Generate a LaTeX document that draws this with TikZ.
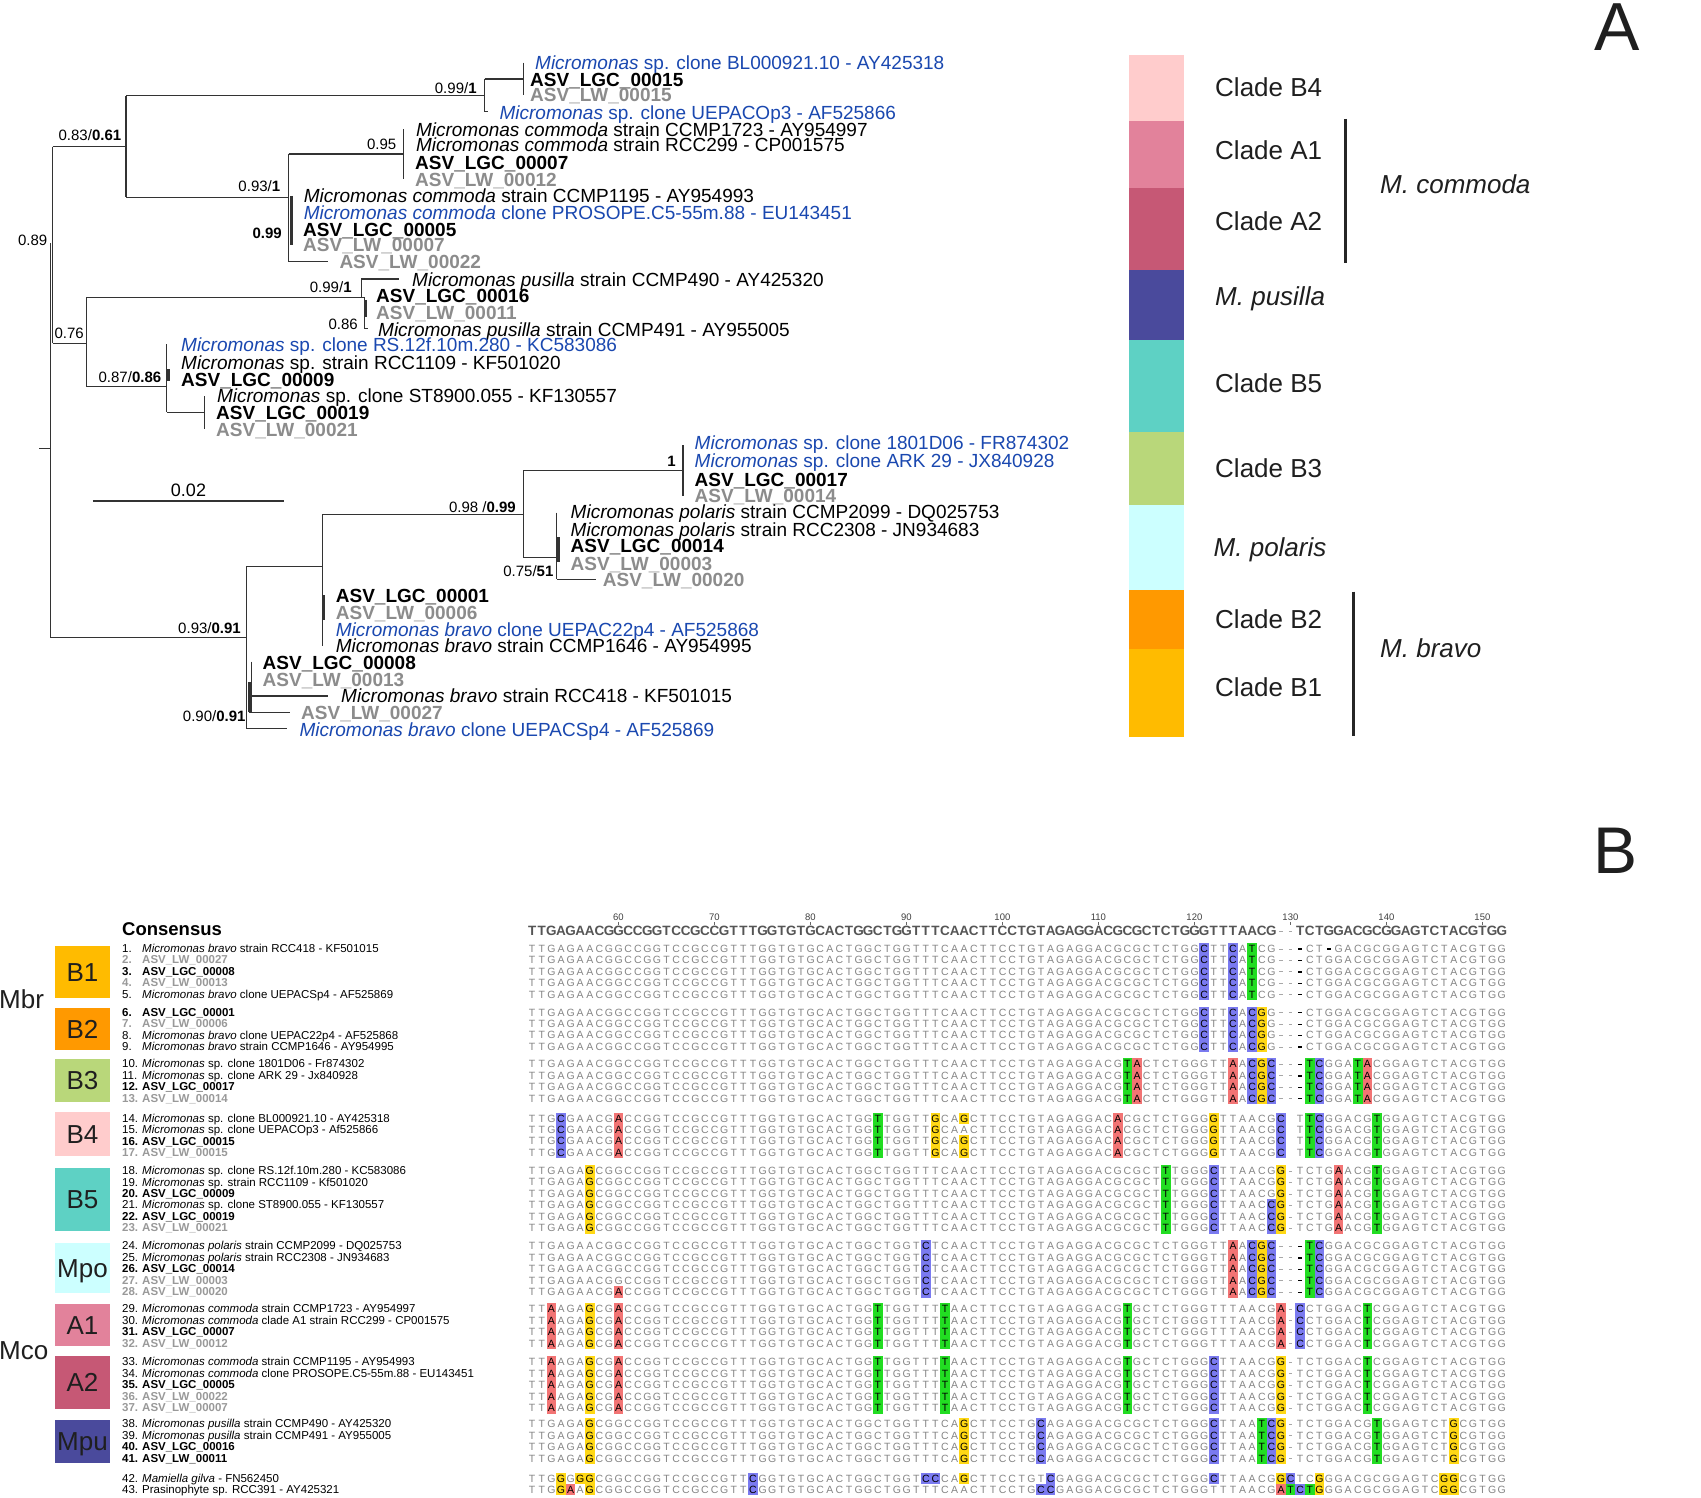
\documentclass[tikz,border=0pt]{standalone}
\usepackage{fontspec}
\setmainfont{Liberation Sans}
\definecolor{treeline}{HTML}{333333}
\definecolor{tblue}{HTML}{1A48B0}
\definecolor{tgray}{HTML}{8C8C8C}
\definecolor{lgray}{HTML}{999999}
\definecolor{seqgray}{HTML}{858585}
\definecolor{consgray}{HTML}{555555}
\definecolor{gapgray}{HTML}{A8A8A8}
\definecolor{hlred}{HTML}{F27474}
\definecolor{hlblue}{HTML}{7A7AF0}
\definecolor{hlgreen}{HTML}{22DD22}
\definecolor{hlyel}{HTML}{FFD814}
\definecolor{cB4}{HTML}{FFCCCC}
\definecolor{cA1}{HTML}{E2829B}
\definecolor{cA2}{HTML}{C65875}
\definecolor{cPu}{HTML}{4A4A9C}
\definecolor{cB5}{HTML}{5ED1C4}
\definecolor{cB3}{HTML}{B9D77A}
\definecolor{cPo}{HTML}{CCFFFF}
\definecolor{cB2}{HTML}{FF9900}
\definecolor{cB1}{HTML}{FFBB00}
\newlength\cw \setlength\cw{9.6pt}
\makeatletter
\newcommand\seqrow[1]{\sq@#1\relax}
\def\sq@#1{\ifx#1\relax\else\sq@char#1\expandafter\sq@\fi}
\def\sq@hl#1#2{\rlap{\color{#1}\rule[-2.05pt]{\cw}{11.5pt}}\makebox[\cw]{\color{black}#2}}
\def\sq@char#1{%
  \ifx#1a\sq@hl{hlred}{A}\else
  \ifx#1c\sq@hl{hlblue}{C}\else
  \ifx#1g\sq@hl{hlyel}{G}\else
  \ifx#1t\sq@hl{hlgreen}{T}\else
  \ifx#1-\makebox[\cw]{\color{gapgray}\rule[2.8pt]{3.4pt}{0.9pt}}\else
  \ifx#1=\makebox[\cw]{\color{black}\rule[2.6pt]{4pt}{1.3pt}}\else
  \ifx#1.\hspace*{\cw}\else
  \makebox[\cw]{#1}\fi\fi\fi\fi\fi\fi\fi}
\makeatother
\newcommand\Mi{\textit{Micromonas}}
\newcommand\alrow[5]{%
  \node[#3, anchor=base west] (num#2) at (122,{#1+3.9}) {#2.};
  \node[#3, anchor=base west] (lab#2) at (142,{#1+3.9}) {#4};
  \node[sq, anchor=base west] (seq#2) at (527.2,{#1+3.7}) {\seqrow{#5}};
}
\begin{document}
\begin{tikzpicture}[x=1pt,y=-1pt,
  lf/.style={anchor=base west, inner sep=0pt, font=\fontsize{19}{20}\selectfont},
  lfb/.style={anchor=base west, inner sep=0pt, font=\fontsize{19}{20}\selectfont\bfseries},
  lfg/.style={lfb, text=tgray},
  lfu/.style={lf, text=tblue},
  bs/.style={anchor=base east, inner sep=0pt, font=\fontsize{15}{16}\selectfont},
  tl/.style={draw=treeline, line width=1.2pt},
  tk/.style={draw=treeline, line width=2.6pt},
  lg/.style={anchor=base west, inner sep=0pt, font=\fontsize{26}{28}\selectfont, text=black!88},
  lbn/.style={inner sep=0pt, font=\fontsize{11.5}{12}\selectfont},
  lbb/.style={inner sep=0pt, font=\fontsize{11.5}{12}\selectfont\bfseries},
  lbg/.style={lbb, text=lgray},
  sq/.style={inner sep=0pt, font=\fontsize{10.5}{11}\selectfont, text=seqgray},
  bx/.style={font=\fontsize{26}{28}\selectfont, anchor=base, inner sep=0pt, text=black!88},
  pl/.style={anchor=base west, inner sep=0pt, font=\fontsize{68}{70}\selectfont, text=black!88}
]
\useasboundingbox[fill=white] (0,0) rectangle (1701,1498);

% ---------------- Panel A: tree ----------------
\coordinate (rootL) at (39.3,448.3);
\coordinate (rootX) at (50.8,448.3);
\coordinate (rT) at (50.8,243);
\coordinate (rB) at (50.8,637.7);
\coordinate (n89t) at (52.5,146.7);
\coordinate (n89b) at (52.5,343.3);
\coordinate (a83) at (126,146.7);
\coordinate (a83t) at (126,95.7);
\coordinate (a83b) at (126,197.3);
\coordinate (aB4) at (484.6,95.7);
\coordinate (aB4t) at (484.6,79);
\coordinate (aB4b) at (484.6,111.7);
\coordinate (aB4c) at (523.2,79);
\coordinate (aB4ct) at (523.2,62.7);
\coordinate (aB4cb) at (523.2,95);
\coordinate (aA) at (288.6,197.3);
\coordinate (aAt) at (288.6,154);
\coordinate (aAb) at (288.6,261.7);
\coordinate (aA1) at (403.6,154);
\coordinate (aA1t) at (403.6,129.3);
\coordinate (aA1b) at (403.6,179.3);
\coordinate (a76) at (86.8,343.3);
\coordinate (a76t) at (86.8,297.3);
\coordinate (a76b) at (86.8,386.7);
\coordinate (aPu) at (361.4,297.3);
\coordinate (aPut) at (361.4,279);
\coordinate (aPu2) at (364.3,297.3);
\coordinate (aPu2b) at (364.3,328.3);
\coordinate (aB5) at (166.8,386.7);
\coordinate (aB5t) at (166.8,344);
\coordinate (aB5b) at (166.8,412.3);
\coordinate (aB5c) at (204.3,412.3);
\coordinate (aB5ct) at (204.3,396);
\coordinate (aB5cb) at (204.3,429);
\coordinate (bN) at (246.4,637.7);
\coordinate (bNt) at (246.4,566.7);
\coordinate (bNb) at (246.4,728.3);
\coordinate (bM) at (322.5,566.7);
\coordinate (bMt) at (322.5,514.3);
\coordinate (bMb) at (322.5,646);
\coordinate (bP) at (523.2,514.3);
\coordinate (bPt) at (523.2,470.7);
\coordinate (bPb) at (523.2,557.7);
\coordinate (bB3) at (683,470.7);
\coordinate (bB3t) at (683,445);
\coordinate (bB3b) at (683,496);
\coordinate (bPo) at (556.8,557.7);
\coordinate (bPot) at (556.8,512.7);
\coordinate (bPob) at (556.8,579.3);

\draw[tl] (rootL) -- (rootX);
\draw[tl] (rT) -- (rB);
\draw[tl] (n89t) -- (n89b);
\draw[tl] (n89t) -- (a83);
\draw[tl] (a83t) -- (a83b);
\draw[tl] (a83t) -- (aB4);
\draw[tl] (aB4t) -- (aB4b);
\draw[tl] (aB4b) -- ++(3,0);
\draw[tl] (aB4t) -- (aB4c);
\draw[tl] (aB4ct) -- (aB4cb);
\draw[tl] (a83b) -- (aA);
\draw[tl] (aAt) -- (aAb);
\draw[tl] (aAb) -- ++(39.3,0);
\draw[tl] (aAt) -- (aA1);
\draw[tl] (aA1t) -- (aA1b);
\draw[tk] (291.4,196) -- (291.4,245);
\draw[tl] (n89b) -- (a76);
\draw[tl] (a76t) -- (a76b);
\draw[tl] (a76t) -- (aPu2);
\draw[tl] (aPut) -- (aPu);
\draw[tl] (aPut) -- ++(37.9,0);
\draw[tl] (aPu2) -- (aPu2b);
\draw[tk] (365.3,300) -- (365.3,316.5);
\draw[tl] (aPu2b) -- ++(3.7,0);
\draw[tl] (a76b) -- (aB5);
\draw[tl] (aB5t) -- (aB5b);
\draw[tk] (168.3,369) -- (168.3,381);
\draw[tl] (aB5b) -- (aB5c);
\draw[tl] (aB5ct) -- (aB5cb);
\draw[tl] (rB) -- (bN);
\draw[tl] (bNt) -- (bNb);
\draw[tl] (bNb) -- ++(40.4,0);
\draw[tl] (bNt) -- (bM);
\draw[tl] (bMt) -- (bMb);
\draw[tk] (323.6,595) -- (323.6,620);
\draw[tl] (bMt) -- (bP);
\draw[tl] (bPt) -- (bPb);
\draw[tl] (bPt) -- (bB3);
\draw[tl] (bB3t) -- (bB3b);
\draw[tl] (bPb) -- (bPo);
\draw[tl] (bPot) -- (bPob);
\draw[tk] (558.3,537) -- (558.3,562);
\draw[tl] (bPob) -- ++(39,0);
\draw[tl] (251.3,661.7) -- (251.3,712.3);
\draw[tk] (249.4,682) -- (249.4,712);
\draw[tl] (249.4,696) -- (327.9,696);
\draw[tl] (249.4,712.3) -- (290,712.3);

% scale bar
\draw[draw=treeline, line width=1.6pt] (92.9,500.7) -- (284,500.7);
\node[anchor=base, inner sep=0pt, font=\fontsize{18}{19}\selectfont] (sbar) at (188.5,496.3) {0.02};

% support values
\node[bs] (s1) at (47.5,245.4) {0.89};
\node[bs] (s2) at (121.4,140.4) {0.83/\textbf{0.61}};
\node[bs] (s3) at (476.8,93.1) {0.99/\textbf{1}};
\node[bs] (s4) at (396.4,149.4) {0.95};
\node[bs] (s5) at (280.4,191.4) {0.93/\textbf{1}};
\node[bs] (s6) at (282,238.1) {\textbf{0.99}};
\node[bs] (s7) at (351.8,292.7) {0.99/\textbf{1}};
\node[bs] (s8) at (357.9,329.4) {0.86};
\node[bs] (s9) at (84,338.7) {0.76};
\node[bs] (s10) at (161.4,382.1) {0.87/\textbf{0.86}};
\node[bs] (s11) at (516,512.1) {0.98 /\textbf{0.99}};
\node[bs] (s12) at (676,466.4) {\textbf{1}};
\node[bs] (s13) at (553.6,576.1) {0.75/\textbf{51}};
\node[bs] (s14) at (241,633.7) {0.93/\textbf{0.91}};
\node[bs] (s15) at (245.7,721.4) {0.90/\textbf{0.91}};

% leaves
\node[lfu] (t1) at (535,69.7) {\Mi{} sp. clone BL000921.10 - AY425318};
\node[lfb] (t2) at (530,86.1) {ASV\_LGC\_00015};
\node[lfg] (t3) at (530,101.8) {ASV\_LW\_00015};
\node[lfu] (t4) at (499.4,119.1) {\Mi{} sp. clone UEPACOp3 - AF525866};
\node[lf] (t5) at (415.8,136.1) {\textit{Micromonas commoda} strain CCMP1723 - AY954997};
\node[lf] (t6) at (415.8,151.8) {\textit{Micromonas commoda} strain RCC299 - CP001575};
\node[lfb] (t7) at (415,169.5) {ASV\_LGC\_00007};
\node[lfg] (t8) at (415,186.1) {ASV\_LW\_00012};
\node[lf] (t9) at (303.6,202.8) {\textit{Micromonas commoda} strain CCMP1195 - AY954993};
\node[lfu] (t10) at (303.6,219.5) {\textit{Micromonas commoda} clone PROSOPE.C5-55m.88 - EU143451};
\node[lfb] (t11) at (303,236.8) {ASV\_LGC\_00005};
\node[lfg] (t12) at (303,251.8) {ASV\_LW\_00007};
\node[lfg] (t13) at (339.3,268.5) {ASV\_LW\_00022};
\node[lf] (t14) at (412,286.8) {\textit{Micromonas pusilla} strain CCMP490 - AY425320};
\node[lfb] (t15) at (376,302.5) {ASV\_LGC\_00016};
\node[lfg] (t16) at (376,319.5) {ASV\_LW\_00011};
\node[lf] (t17) at (378,336.1) {\textit{Micromonas pusilla} strain CCMP491 - AY955005};
\node[lfu] (t18) at (181,351.8) {\Mi{} sp. clone RS.12f.10m.280 - KC583086};
\node[lf] (t19) at (181,369.5) {\Mi{} sp. strain RCC1109 - KF501020};
\node[lfb] (t20) at (181,386.1) {ASV\_LGC\_00009};
\node[lf] (t21) at (216.8,402.8) {\Mi{} sp. clone ST8900.055 - KF130557};
\node[lfb] (t22) at (216,419.5) {ASV\_LGC\_00019};
\node[lfg] (t23) at (216,436.1) {ASV\_LW\_00021};
\node[lfu] (t24) at (694.5,449.5) {\Mi{} sp. clone 1801D06 - FR874302};
\node[lfu] (t25) at (694.5,467.5) {\Mi{} sp. clone ARK 29 - JX840928};
\node[lfb] (t26) at (694.5,486.1) {ASV\_LGC\_00017};
\node[lfg] (t27) at (694.5,502.8) {ASV\_LW\_00014};
\node[lf] (t28) at (570.5,518.5) {\textit{Micromonas polaris} strain CCMP2099 - DQ025753};
\node[lf] (t29) at (570.5,536.1) {\textit{Micromonas polaris} strain RCC2308 - JN934683};
\node[lfb] (t30) at (570.5,552.8) {ASV\_LGC\_00014};
\node[lfg] (t31) at (570.5,570.8) {ASV\_LW\_00003};
\node[lfg] (t32) at (602.7,586.1) {ASV\_LW\_00020};
\node[lfb] (t33) at (335.7,602.5) {ASV\_LGC\_00001};
\node[lfg] (t34) at (335.7,619.5) {ASV\_LW\_00006};
\node[lfu] (t35) at (335.7,636.1) {\textit{Micromonas bravo} clone UEPAC22p4 - AF525868};
\node[lf] (t36) at (335.7,652.8) {\textit{Micromonas bravo} strain CCMP1646 - AY954995};
\node[lfb] (t37) at (262.5,669.1) {ASV\_LGC\_00008};
\node[lfg] (t38) at (262.5,686.1) {ASV\_LW\_00013};
\node[lf] (t39) at (341,702.8) {\textit{Micromonas bravo} strain RCC418 - KF501015};
\node[lfg] (t40) at (301,719.1) {ASV\_LW\_00027};
\node[lfu] (t41) at (299.3,736.1) {\textit{Micromonas bravo} clone UEPACSp4 - AF525869};

% legend
\fill[cB4] (1129,54.8) rectangle (1184,121.2);
\fill[cA1] (1129,121.2) rectangle (1184,188.2);
\fill[cA2] (1129,188.2) rectangle (1184,270.1);
\fill[cPu] (1129,270.1) rectangle (1184,339.5);
\fill[cB5] (1129,339.5) rectangle (1184,431.6);
\fill[cB3] (1129,431.6) rectangle (1184,505.3);
\fill[cPo] (1129,505.3) rectangle (1184,589.7);
\fill[cB2] (1129,589.7) rectangle (1184,648.9);
\fill[cB1] (1129,648.9) rectangle (1184,737.2);
\node[lg] (gB4) at (1215,96.7) {Clade B4};
\node[lg] (gA1) at (1215,159.7) {Clade A1};
\node[lg] (gA2) at (1215,230.1) {Clade A2};
\node[lg] (gPu) at (1215,305.2) {\textit{M. pusilla}};
\node[lg] (gB5) at (1215,392.4) {Clade B5};
\node[lg] (gB3) at (1215,477.4) {Clade B3};
\node[lg] (gPo) at (1213.5,556) {\textit{M. polaris}};
\node[lg] (gB2) at (1215,628.7) {Clade B2};
\node[lg] (gB1) at (1215,696.6) {Clade B1};
\draw[line width=3.5pt, draw=black!85] (1345.7,118.8) -- (1345.7,262.9);
\draw[line width=3.5pt, draw=black!85] (1353.7,591.7) -- (1353.7,735.7);
\node[lg] (gMc) at (1380,193.7) {\textit{M. commoda}};
\node[lg] (gMb) at (1380,657.8) {\textit{M. bravo}};
\node[pl] (pA) at (1594,50.5) {A};
\node[pl, font=\fontsize{66}{68}\selectfont] (pB) at (1593,873) {B};

% ---------------- Panel B ----------------
\fill[cB1] (55,946) rectangle (110,998);
\fill[cB2] (55,1008) rectangle (110,1050);
\fill[cB3] (55,1059) rectangle (110,1102);
\fill[cB4] (55,1112) rectangle (110,1156);
\fill[cB5] (55,1168) rectangle (110,1231);
\fill[cPo] (55,1243) rectangle (110,1293);
\fill[cA1] (55,1304) rectangle (110,1346);
\fill[cA2] (55,1356) rectangle (110,1409);
\fill[cPu] (55,1420) rectangle (110,1463);
\node[bx] (kB1) at (82.5,981.4) {B1};
\node[bx] (kB2) at (82.5,1038.4) {B2};
\node[bx] (kB3) at (82.5,1089.9) {B3};
\node[bx] (kB4) at (82.5,1143.4) {B4};
\node[bx] (kB5) at (82.5,1208.9) {B5};
\node[bx] (kPo) at (82.5,1277.4) {Mpo};
\node[bx] (kA1) at (82.5,1334.4) {A1};
\node[bx] (kA2) at (82.5,1391.9) {A2};
\node[bx] (kPu) at (82.5,1450.9) {Mpu};
\node[lg] (kMbr) at (-1,1008.3) {Mbr};
\node[lg] (kMco) at (-1,1359.3) {Mco};

\node[anchor=base west, inner sep=0pt, font=\fontsize{18.5}{20}\selectfont\bfseries] (conslab) at (122,935) {Consensus};
\foreach \p in {60,70,...,150} {
  \node[anchor=base, inner sep=0pt, font=\fontsize{9.5}{10}\selectfont, text=black!75] (r\p) at ({532+9.6*(\p-51)},920) {\p};
  \draw[black!60, line width=0.8pt] ({532+9.6*(\p-51)},921.8) -- ++(0,3.2);
}
\node[anchor=base west, inner sep=0pt, font=\fontsize{13.5}{14}\selectfont\bfseries, text=consgray] (cons) at (527.2,935) {\seqrow{TTGAGAACGG CCGGTCCGCC GTTTGGTGTG CACTGGCTGG TTTCAACTTC CTGTAGAGGA CGCGCTCTGG GTTTAACG-- TCTGGACGCG GAGTCTACGT GG}};

\alrow{948.5}{1}{lbn}{\textit{Micromonas bravo} strain RCC418 - KF501015}{TTGAGAACGG CCGGTCCGCC GTTTGGTGTG CACTGGCTGG TTTCAACTTC CTGTAGAGGA CGCGCTCTGG cTTcAtCG-- =CT=GACGCG GAGTCTACGT GG}
\alrow{960}{2}{lbg}{ASV\_LW\_00027}{TTGAGAACGG CCGGTCCGCC GTTTGGTGTG CACTGGCTGG TTTCAACTTC CTGTAGAGGA CGCGCTCTGG cTTcAtCG-- =CTGGACGCG GAGTCTACGT GG}
\alrow{971.4}{3}{lbb}{ASV\_LGC\_00008}{TTGAGAACGG CCGGTCCGCC GTTTGGTGTG CACTGGCTGG TTTCAACTTC CTGTAGAGGA CGCGCTCTGG cTTcAtCG-- =CTGGACGCG GAGTCTACGT GG}
\alrow{982.9}{4}{lbg}{ASV\_LW\_00013}{TTGAGAACGG CCGGTCCGCC GTTTGGTGTG CACTGGCTGG TTTCAACTTC CTGTAGAGGA CGCGCTCTGG cTTcAtCG-- =CTGGACGCG GAGTCTACGT GG}
\alrow{994.3}{5}{lbn}{\textit{Micromonas bravo} clone UEPACSp4 - AF525869}{TTGAGAACGG CCGGTCCGCC GTTTGGTGTG CACTGGCTGG TTTCAACTTC CTGTAGAGGA CGCGCTCTGG cTTcAtCG-- =CTGGACGCG GAGTCTACGT GG}
\alrow{1012.3}{6}{lbb}{ASV\_LGC\_00001}{TTGAGAACGG CCGGTCCGCC GTTTGGTGTG CACTGGCTGG TTTCAACTTC CTGTAGAGGA CGCGCTCTGG cTTcAcgG-- =CTGGACGCG GAGTCTACGT GG}
\alrow{1023.7}{7}{lbg}{ASV\_LW\_00006}{TTGAGAACGG CCGGTCCGCC GTTTGGTGTG CACTGGCTGG TTTCAACTTC CTGTAGAGGA CGCGCTCTGG cTTcAcgG-- =CTGGACGCG GAGTCTACGT GG}
\alrow{1035.2}{8}{lbn}{\textit{Micromonas bravo} clone UEPAC22p4 - AF525868}{TTGAGAACGG CCGGTCCGCC GTTTGGTGTG CACTGGCTGG TTTCAACTTC CTGTAGAGGA CGCGCTCTGG cTTcAcgG-- =CTGGACGCG GAGTCTACGT GG}
\alrow{1046.6}{9}{lbn}{\textit{Micromonas bravo} strain CCMP1646 - AY954995}{TTGAGAACGG CCGGTCCGCC GTTTGGTGTG CACTGGCTGG TTTCAACTTC CTGTAGAGGA CGCGCTCTGG cTTcAcgG-- =CTGGACGCG GAGTCTACGT GG}
\alrow{1064}{10}{lbn}{\Mi{} sp. clone 1801D06 - Fr874302}{TTGAGAACGG CCGGTCCGCC GTTTGGTGTG CACTGGCTGG TTTCAACTTC CTGTAGAGGA CGtaCTCTGG GTTaAcgc-- =tcGGAtaCG GAGTCTACGT GG}
\alrow{1075.4}{11}{lbn}{\Mi{} sp. clone ARK 29 - Jx840928}{TTGAGAACGG CCGGTCCGCC GTTTGGTGTG CACTGGCTGG TTTCAACTTC CTGTAGAGGA CGtaCTCTGG GTTaAcgc-- =tcGGAtaCG GAGTCTACGT GG}
\alrow{1086.9}{12}{lbb}{ASV\_LGC\_00017}{TTGAGAACGG CCGGTCCGCC GTTTGGTGTG CACTGGCTGG TTTCAACTTC CTGTAGAGGA CGtaCTCTGG GTTaAcgc-- =tcGGAtaCG GAGTCTACGT GG}
\alrow{1098.3}{13}{lbg}{ASV\_LW\_00014}{TTGAGAACGG CCGGTCCGCC GTTTGGTGTG CACTGGCTGG TTTCAACTTC CTGTAGAGGA CGtaCTCTGG GTTaAcgc-- =tcGGAtaCG GAGTCTACGT GG}
\alrow{1118.3}{14}{lbn}{\Mi{} sp. clone BL000921.10 - AY425318}{TTGcGAACGa CCGGTCCGCC GTTTGGTGTG CACTGGtTGG TTgCAgCTTC CTGTAGAGGA CaCGCTCTGG GgTTAACGc. TtcGGACGtG GAGTCTACGT GG}
\alrow{1129.7}{15}{lbn}{\Mi{} sp. clone UEPACOp3 - Af525866}{TTGcGAACGa CCGGTCCGCC GTTTGGTGTG CACTGGtTGG TTgCAACTTC CTGTAGAGGA CaCGCTCTGG GgTTAACGc. TtcGGACGtG GAGTCTACGT GG}
\alrow{1141.2}{16}{lbb}{ASV\_LGC\_00015}{TTGcGAACGa CCGGTCCGCC GTTTGGTGTG CACTGGtTGG TTgCAgCTTC CTGTAGAGGA CaCGCTCTGG GgTTAACGc. TtcGGACGtG GAGTCTACGT GG}
\alrow{1152.6}{17}{lbg}{ASV\_LW\_00015}{TTGcGAACGa CCGGTCCGCC GTTTGGTGTG CACTGGtTGG TTgCAgCTTC CTGTAGAGGA CaCGCTCTGG GgTTAACGc. TtcGGACGtG GAGTCTACGT GG}
\alrow{1170.7}{18}{lbn}{\Mi{} sp. clone RS.12f.10m.280 - KC583086}{TTGAGAgCGG CCGGTCCGCC GTTTGGTGTG CACTGGCTGG TTTCAACTTC CTGTAGAGGA CGCGCTtTGG GcTTAACGg- TCTGaACGtG GAGTCTACGT GG}
\alrow{1182.1}{19}{lbn}{\Mi{} sp. strain RCC1109 - Kf501020}{TTGAGAgCGG CCGGTCCGCC GTTTGGTGTG CACTGGCTGG TTTCAACTTC CTGTAGAGGA CGCGCTtTGG GcTTAACGg- TCTGaACGtG GAGTCTACGT GG}
\alrow{1193.6}{20}{lbb}{ASV\_LGC\_00009}{TTGAGAgCGG CCGGTCCGCC GTTTGGTGTG CACTGGCTGG TTTCAACTTC CTGTAGAGGA CGCGCTtTGG GcTTAACGg- TCTGaACGtG GAGTCTACGT GG}
\alrow{1205}{21}{lbn}{\Mi{} sp. clone ST8900.055 - KF130557}{TTGAGAgCGG CCGGTCCGCC GTTTGGTGTG CACTGGCTGG TTTCAACTTC CTGTAGAGGA CGCGCTtTGG GcTTAACcg- TCTGaACGtG GAGTCTACGT GG}
\alrow{1216.5}{22}{lbb}{ASV\_LGC\_00019}{TTGAGAgCGG CCGGTCCGCC GTTTGGTGTG CACTGGCTGG TTTCAACTTC CTGTAGAGGA CGCGCTtTGG GcTTAACcg- TCTGaACGtG GAGTCTACGT GG}
\alrow{1227.9}{23}{lbg}{ASV\_LW\_00021}{TTGAGAgCGG CCGGTCCGCC GTTTGGTGTG CACTGGCTGG TTTCAACTTC CTGTAGAGGA CGCGCTtTGG GcTTAACcg- TCTGaACGtG GAGTCTACGT GG}
\alrow{1246}{24}{lbn}{\textit{Micromonas polaris} strain CCMP2099 - DQ025753}{TTGAGAACGG CCGGTCCGCC GTTTGGTGTG CACTGGCTGG TcTCAACTTC CTGTAGAGGA CGCGCTCTGG GTTaAcgc-- =tcGGACGCG GAGTCTACGT GG}
\alrow{1257.4}{25}{lbn}{\textit{Micromonas polaris} strain RCC2308 - JN934683}{TTGAGAACGG CCGGTCCGCC GTTTGGTGTG CACTGGCTGG TcTCAACTTC CTGTAGAGGA CGCGCTCTGG GTTaAcgc-- =tcGGACGCG GAGTCTACGT GG}
\alrow{1268.9}{26}{lbb}{ASV\_LGC\_00014}{TTGAGAACGG CCGGTCCGCC GTTTGGTGTG CACTGGCTGG TcTCAACTTC CTGTAGAGGA CGCGCTCTGG GTTaAcgc-- =tcGGACGCG GAGTCTACGT GG}
\alrow{1280.3}{27}{lbg}{ASV\_LW\_00003}{TTGAGAACGG CCGGTCCGCC GTTTGGTGTG CACTGGCTGG TcTCAACTTC CTGTAGAGGA CGCGCTCTGG GTTaAcgc-- =tcGGACGCG GAGTCTACGT GG}
\alrow{1291.8}{28}{lbg}{ASV\_LW\_00020}{TTGAGAACGa CCGGTCCGCC GTTTGGTGTG CACTGGCTGG TcTCAACTTC CTGTAGAGGA CGCGCTCTGG GTTaAcgc-- =tcGGACGCG GAGTCTACGT GG}
\alrow{1309}{29}{lbn}{\textit{Micromonas commoda} strain CCMP1723 - AY954997}{TTaAGAgCGa CCGGTCCGCC GTTTGGTGTG CACTGGtTGG TTTtAACTTC CTGTAGAGGA CGtGCTCTGG GTTTAACGa- cCTGGACtCG GAGTCTACGT GG}
\alrow{1320.4}{30}{lbn}{\textit{Micromonas commoda} clade A1 strain RCC299 - CP001575}{TTaAGAgCGa CCGGTCCGCC GTTTGGTGTG CACTGGtTGG TTTtAACTTC CTGTAGAGGA CGtGCTCTGG GTTTAACGa- cCTGGACtCG GAGTCTACGT GG}
\alrow{1331.9}{31}{lbb}{ASV\_LGC\_00007}{TTaAGAgCGa CCGGTCCGCC GTTTGGTGTG CACTGGtTGG TTTtAACTTC CTGTAGAGGA CGtGCTCTGG GTTTAACGa- cCTGGACtCG GAGTCTACGT GG}
\alrow{1343.3}{32}{lbg}{ASV\_LW\_00012}{TTaAGAgCGa CCGGTCCGCC GTTTGGTGTG CACTGGtTGG TTTtAACTTC CTGTAGAGGA CGtGCTCTGG GTTTAACGa- cCTGGACtCG GAGTCTACGT GG}
\alrow{1362}{33}{lbn}{\textit{Micromonas commoda} strain CCMP1195 - AY954993}{TTaAGAgCGa CCGGTCCGCC GTTTGGTGTG CACTGGtTGG TTTtAACTTC CTGTAGAGGA CGtGCTCTGG GcTTAACGg- TCTGGACtCG GAGTCTACGT GG}
\alrow{1373.4}{34}{lbn}{\textit{Micromonas commoda} clone PROSOPE.C5-55m.88 - EU143451}{TTaAGAgCGa CCGGTCCGCC GTTTGGTGTG CACTGGtTGG TTTtAACTTC CTGTAGAGGA CGtGCTCTGG GcTTAACGg- TCTGGACtCG GAGTCTACGT GG}
\alrow{1384.9}{35}{lbb}{ASV\_LGC\_00005}{TTaAGAgCGa CCGGTCCGCC GTTTGGTGTG CACTGGtTGG TTTtAACTTC CTGTAGAGGA CGtGCTCTGG GcTTAACGg- TCTGGACtCG GAGTCTACGT GG}
\alrow{1396.3}{36}{lbg}{ASV\_LW\_00022}{TTaAGAgCGa CCGGTCCGCC GTTTGGTGTG CACTGGtTGG TTTtAACTTC CTGTAGAGGA CGtGCTCTGG GcTTAACGg- TCTGGACtCG GAGTCTACGT GG}
\alrow{1407.8}{37}{lbg}{ASV\_LW\_00007}{TTaAGAgCGa CCGGTCCGCC GTTTGGTGTG CACTGGtTGG TTTtAACTTC CTGTAGAGGA CGtGCTCTGG GcTTAACGg- TCTGGACtCG GAGTCTACGT GG}
\alrow{1424}{38}{lbn}{\textit{Micromonas pusilla} strain CCMP490 - AY425320}{TTGAGAgCGG CCGGTCCGCC GTTTGGTGTG CACTGGCTGG TTTCAgCTTC CTGcAGAGGA CGCGCTCTGG GcTTAAtcg- TCTGGACGtG GAGTCTgCGT GG}
\alrow{1435.4}{39}{lbn}{\textit{Micromonas pusilla} strain CCMP491 - AY955005}{TTGAGAgCGG CCGGTCCGCC GTTTGGTGTG CACTGGCTGG TTTCAgCTTC CTGcAGAGGA CGCGCTCTGG GcTTAAtcg- TCTGGACGtG GAGTCTgCGT GG}
\alrow{1446.9}{40}{lbb}{ASV\_LGC\_00016}{TTGAGAgCGG CCGGTCCGCC GTTTGGTGTG CACTGGCTGG TTTCAgCTTC CTGcAGAGGA CGCGCTCTGG GcTTAAtcg- TCTGGACGtG GAGTCTgCGT GG}
\alrow{1458.3}{41}{lbb}{ASV\_LW\_00011}{TTGAGAgCGG CCGGTCCGCC GTTTGGTGTG CACTGGCTGG TTTCAgCTTC CTGcAGAGGA CGCGCTCTGG GcTTAAtcg- TCTGGACGtG GAGTCTgCGT GG}
\alrow{1478.3}{42}{lbn}{\textit{Mamiella gilva} - FN562450}{TTGgGggCGG CCGGTCCGCC GTTcGGTGTG CACTGGCTGG TccCAgCTTC CTGTcGAGGA CGCGCTCTGG GcTTAACGgc TCgGGACGCG GAGTCggCGT GG}
\alrow{1489.3}{43}{lbn}{Prasinophyte sp. RCC391 - AY425321}{TTGgaAgCGG CCGGTCCGCC GTTcGGTGTG CACTGGCTGG TTTCAACTTC CTGccGAGGA CGCGCTCTGG GTTTAACGat ctgGGACGCG GAGTCggCGT GG}
\end{tikzpicture}
\end{document}
